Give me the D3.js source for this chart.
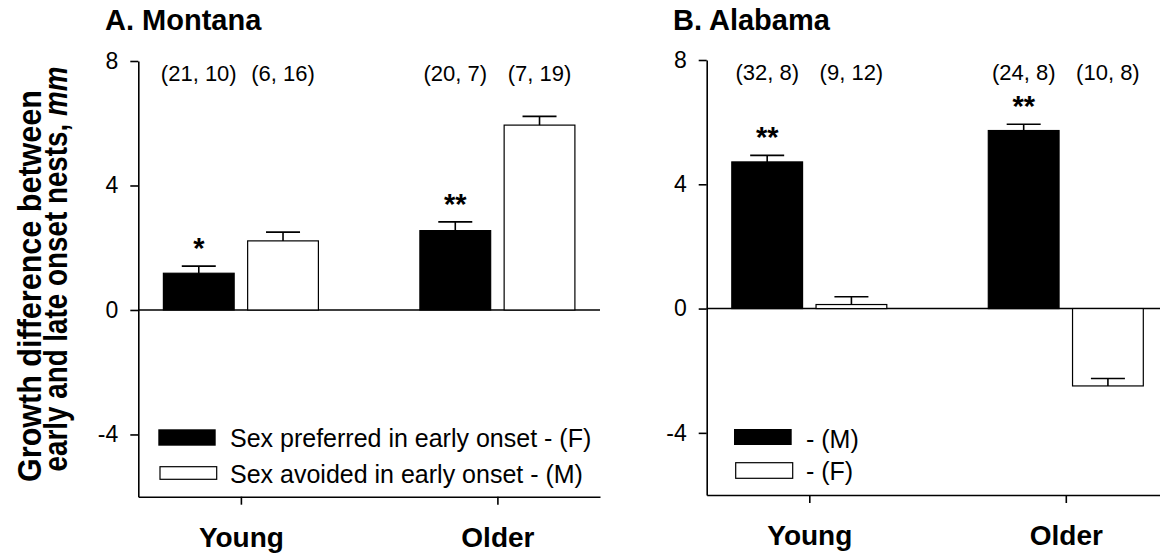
<!DOCTYPE html>
<html><head><meta charset="utf-8">
<script src="https://cdn.jsdelivr.net/npm/d3@7"></script>
<style>
body{margin:0;background:#fff;}
svg{display:block;font-family:"Liberation Sans",Arial,Helvetica,sans-serif;}
</style></head><body>
<svg id="c" width="1160" height="554"></svg>
<script>
// ---- data ----
const categories = ["Young", "Older"];
const yTicks = [-4, 0, 4, 8];
const yDomain = [-6, 8];

const montanaPreferred = [1.18, 2.55];
const montanaPreferredErr = [0.23, 0.28];
const montanaAvoided = [2.22, 5.94];
const montanaAvoidedErr = [0.28, 0.28];
const montanaNPreferred = ["(21, 10)", "(20, 7)"];
const montanaNAvoided = ["(6, 16)", "(7, 19)"];
const montanaStarsPreferred = ["*", "**"];
const montanaStarsAvoided = ["", ""];
const montanaLegend = ["Sex preferred in early onset - (F)", "Sex avoided in early onset - (M)"];

const alabamaPreferred = [4.72, 5.73];
const alabamaPreferredErr = [0.21, 0.20];
const alabamaAvoided = [0.13, -2.49];
const alabamaAvoidedErr = [0.25, 0.24];
const alabamaNPreferred = ["(32, 8)", "(24, 8)"];
const alabamaNAvoided = ["(9, 12)", "(10, 8)"];
const alabamaStarsPreferred = ["**", "**"];
const alabamaStarsAvoided = ["", ""];
const alabamaLegend = ["- (M)", "- (F)"];

const yLabel1 = "Growth difference between";
const yLabel2 = ["early and late onset nests, ", "mm"];

// ---- layout ----
const panels = [
  {title: "A. Montana", titleX: 105, axisX: 138.3, yRange: [496.7, 61], zeroEnd: 600,
   pref: montanaPreferred, prefErr: montanaPreferredErr, avoid: montanaAvoided, avoidErr: montanaAvoidedErr,
   nPref: montanaNPreferred, nAvoid: montanaNAvoided, sPref: montanaStarsPreferred, sAvoid: montanaStarsAvoided,
   legend: montanaLegend,
   leg: {b: [158.3, 429.3, 57.4, 16.4], w: [160, 466.7, 56.7, 12.6], tx: 230, ty: [446.7, 482.7]}},
  {title: "B. Alabama", titleX: 673, axisX: 706.7, yRange: [495, 60], zeroEnd: 1160,
   pref: alabamaPreferred, prefErr: alabamaPreferredErr, avoid: alabamaAvoided, avoidErr: alabamaAvoidedErr,
   nPref: alabamaNPreferred, nAvoid: alabamaNAvoided, sPref: alabamaStarsPreferred, sAvoid: alabamaStarsAvoided,
   legend: alabamaLegend,
   leg: {b: [734, 429, 57.7, 16], w: [735.7, 462.7, 57, 15.6], tx: 806, ty: [447.7, 480]}}
];

const svg = d3.select("#c");
svg.append("rect").attr("width", 1160).attr("height", 554).attr("fill", "#fff");

panels.forEach(p => {
  const g = svg.append("g");
  const x = d3.scalePoint().domain(categories).range([p.axisX, p.axisX + 461.7]).padding(0.4);
  const sub = d3.scaleBand().domain([0, 1]).range([-77.5, 77.5]).paddingInner(0.16);
  const y = d3.scaleLinear().domain(yDomain).range(p.yRange);
  const bw = sub.bandwidth();

  g.append("text").attr("x", p.titleX).attr("y", 30)
    .attr("font-size", 29).attr("font-weight", "bold").text(p.title);

  g.append("line").attr("x1", p.axisX).attr("x2", p.zeroEnd)
    .attr("y1", y(0)).attr("y2", y(0)).attr("stroke", "#000").attr("stroke-width", 1.4);

  const rows = [];
  categories.forEach((c, i) => {
    rows.push({c, s: 0, v: p.pref[i], e: p.prefErr[i], n: p.nPref[i], star: p.sPref[i]});
    rows.push({c, s: 1, v: p.avoid[i], e: p.avoidErr[i], n: p.nAvoid[i], star: p.sAvoid[i]});
  });

  rows.forEach(r => {
    const x0 = x(r.c) + sub(r.s);
    const cx = x0 + bw / 2;
    const yTop = y(Math.max(r.v, 0));
    const h = Math.abs(y(r.v) - y(0));
    g.append("rect").attr("x", x0).attr("y", yTop).attr("width", bw).attr("height", h)
      .attr("fill", r.s === 0 ? "#000" : "#fff")
      .attr("stroke", "#000").attr("stroke-width", 1.2);
    const ye = y(r.v + r.e);
    g.append("line").attr("x1", cx).attr("x2", cx).attr("y1", y(r.v)).attr("y2", ye)
      .attr("stroke", "#000").attr("stroke-width", 1.6);
    g.append("line").attr("x1", cx - 17).attr("x2", cx + 17).attr("y1", ye).attr("y2", ye)
      .attr("stroke", "#000").attr("stroke-width", 1.6);
    if (r.star) {
      g.append("text").attr("x", cx).attr("y", ye - 8).attr("text-anchor", "middle")
        .attr("font-size", 29).attr("font-weight", "bold").text(r.star);
    }
    g.append("text").attr("x", cx).attr("y", y(8) + 20).attr("text-anchor", "middle")
      .attr("font-size", 22).text(r.n);
  });

  const ya = g.append("g").attr("transform", `translate(${p.axisX},0)`)
    .call(d3.axisLeft(y).tickValues(yTicks).tickSize(8).tickSizeOuter(0).tickPadding(12).tickFormat(d => String(d)));
  ya.selectAll("path,line").attr("stroke", "#000").attr("stroke-width", 1.6);
  ya.selectAll("text").attr("font-size", 23).attr("font-family", "Liberation Sans, Arial, sans-serif").attr("fill", "#000");

  const xa = g.append("g").attr("transform", `translate(0,${y(yDomain[0])})`)
    .call(d3.axisBottom(x).tickSize(8).tickSizeOuter(0));
  xa.selectAll("path,line").attr("stroke", "#000").attr("stroke-width", 1.6);
  xa.selectAll("text").attr("y", 50).attr("dy", 0).attr("font-size", 28).attr("font-weight", "bold")
    .attr("font-family", "Liberation Sans, Arial, sans-serif").attr("fill", "#000");

  const L = p.leg;
  g.append("rect").attr("x", L.b[0]).attr("y", L.b[1]).attr("width", L.b[2]).attr("height", L.b[3]).attr("fill", "#000");
  g.append("rect").attr("x", L.w[0]).attr("y", L.w[1]).attr("width", L.w[2]).attr("height", L.w[3])
    .attr("fill", "#fff").attr("stroke", "#000").attr("stroke-width", 1.2);
  p.legend.forEach((t, i) => {
    g.append("text").attr("x", L.tx).attr("y", L.ty[i]).attr("font-size", 25).text(t);
  });
});

// y label
svg.append("text").attr("transform", "translate(41,286) rotate(-90)")
  .attr("text-anchor", "middle").attr("font-size", 33).attr("font-weight", "bold")
  .attr("textLength", 392).attr("lengthAdjust", "spacingAndGlyphs").text(yLabel1);
const t2 = svg.append("text").attr("transform", "translate(67,269) rotate(-90)")
  .attr("text-anchor", "middle").attr("font-size", 33).attr("font-weight", "bold")
  .attr("textLength", 405).attr("lengthAdjust", "spacingAndGlyphs");
t2.append("tspan").text(yLabel2[0]);
t2.append("tspan").attr("font-style", "italic").text(yLabel2[1]);
</script>
</body></html>
